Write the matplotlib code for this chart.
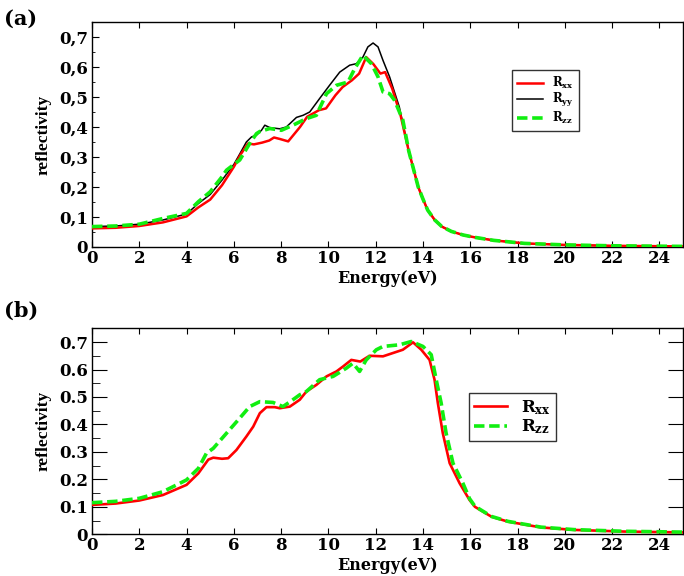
import matplotlib
matplotlib.use("Agg")
import matplotlib.pyplot as plt
from matplotlib.ticker import MultipleLocator, FixedLocator, FixedFormatter

# ---------------- data: panel (a) ----------------
Ea_xx = [0, 1, 2, 3, 4, 4.5, 5, 5.5, 6, 6.3, 6.6, 6.85, 7.2, 7.5, 7.7, 7.95, 8.3, 8.8, 9.1, 9.6,
         9.9, 10.3, 10.6, 11.0, 11.3, 11.6, 11.9, 12.2, 12.4, 12.7, 13.05, 13.4, 13.6, 13.8, 14.0,
         14.2, 14.5, 14.8, 15.2, 15.7, 16.2, 17, 18.3, 20, 22, 25]
Ra_xx = [0.062, 0.064, 0.070, 0.082, 0.102, 0.132, 0.158, 0.206, 0.267, 0.31, 0.345, 0.342, 0.348,
         0.355, 0.365, 0.36, 0.352, 0.40, 0.434, 0.456, 0.462, 0.506, 0.533, 0.556, 0.578, 0.633,
         0.61, 0.578, 0.583, 0.528, 0.44, 0.32, 0.26, 0.2, 0.16, 0.123, 0.09, 0.068, 0.052, 0.04,
         0.032, 0.022, 0.012, 0.007, 0.004, 0.002]

Ea_yy = [0, 1, 2, 3, 4, 4.5, 5, 5.5, 6, 6.25, 6.53, 6.75, 6.96, 7.17, 7.31, 7.52, 7.94, 8.22, 8.65,
         8.93, 9.21, 9.63, 10.05, 10.48, 10.9, 11.18, 11.46, 11.67, 11.89, 12.1, 12.31, 12.59, 13.0,
         13.4, 13.6, 13.8, 14.0, 14.2, 14.5, 14.8, 15.2, 15.7, 16.2, 17, 18.3, 20, 22, 25]
Ra_yy = [0.068, 0.070, 0.076, 0.090, 0.110, 0.145, 0.175, 0.223, 0.275, 0.31, 0.35, 0.367, 0.373,
         0.389, 0.406, 0.398, 0.394, 0.400, 0.432, 0.439, 0.450, 0.495, 0.539, 0.583, 0.606, 0.611,
         0.633, 0.667, 0.680, 0.667, 0.622, 0.567, 0.467, 0.32, 0.26, 0.2, 0.16, 0.123, 0.09, 0.068,
         0.052, 0.04, 0.032, 0.022, 0.012, 0.007, 0.004, 0.002]

Ea_zz = [0, 1, 2, 3, 4, 4.5, 5, 5.5, 5.69, 6.0, 6.25, 6.67, 6.96, 7.1, 7.52, 8.01, 8.5, 9.07, 9.49,
         9.92, 10.34, 10.83, 11.11, 11.46, 11.82, 12.1, 12.31, 12.59, 12.8, 13.15, 13.4, 13.6, 13.8,
         14.0, 14.2, 14.5, 14.8, 15.2, 15.7, 16.2, 17, 18.3, 20, 22, 25]
Ra_zz = [0.068, 0.070, 0.076, 0.095, 0.112, 0.151, 0.184, 0.234, 0.256, 0.275, 0.29, 0.345, 0.378,
         0.385, 0.395, 0.389, 0.406, 0.428, 0.439, 0.511, 0.539, 0.550, 0.594, 0.639, 0.611, 0.567,
         0.517, 0.511, 0.489, 0.423, 0.32, 0.26, 0.2, 0.16, 0.123, 0.09, 0.068, 0.052, 0.04, 0.032,
         0.022, 0.012, 0.007, 0.004, 0.002]

# ---------------- data: panel (b) ----------------
Eb_xx = [0, 1, 2, 3, 4, 4.5, 4.92, 5.13, 5.5, 5.76, 6.11, 6.53, 6.82, 7.1, 7.38, 7.73, 7.94, 8.37,
         8.79, 9.07, 9.49, 9.92, 10.34, 10.62, 10.97, 11.35, 11.74, 12.31, 12.73, 13.15, 13.58,
         13.93, 14.28, 14.49, 14.63, 14.84, 15.13, 15.55, 15.97, 16.2, 16.9, 17.6, 19.0, 20.4,
         22.5, 25]
Rb_xx = [0.107, 0.112, 0.123, 0.143, 0.18, 0.222, 0.272, 0.279, 0.275, 0.277, 0.307, 0.356, 0.392,
         0.441, 0.463, 0.463, 0.459, 0.465, 0.49, 0.52, 0.544, 0.575, 0.593, 0.611, 0.635, 0.629,
         0.65, 0.648, 0.66, 0.672, 0.699, 0.672, 0.635, 0.563, 0.478, 0.368, 0.259, 0.186, 0.125,
         0.10, 0.064, 0.046, 0.025, 0.016, 0.01, 0.007]

Eb_zz = [0, 1, 2, 3, 4, 4.5, 4.84, 5.13, 5.69, 6.25, 6.67, 7.1, 7.66, 8.08, 8.5, 8.79, 9.07, 9.63,
         10.2, 10.76, 11.04, 11.32, 11.6, 12.03, 12.31, 13.01, 13.51, 14.0, 14.35, 14.56, 14.77,
         14.98, 15.27, 15.69, 15.97, 16.2, 16.9, 17.6, 19.0, 20.4, 22.5, 25]
Rb_zz = [0.115, 0.12, 0.131, 0.155, 0.198, 0.24, 0.295, 0.313, 0.368, 0.423, 0.465, 0.483, 0.48,
         0.465, 0.49, 0.508, 0.52, 0.563, 0.575, 0.605, 0.623, 0.593, 0.635, 0.672, 0.684, 0.69,
         0.702, 0.684, 0.654, 0.563, 0.478, 0.368, 0.259, 0.186, 0.13, 0.102, 0.065, 0.047, 0.026,
         0.017, 0.011, 0.008]

xticks = list(range(0, 25, 2))
yticks = [0, 0.1, 0.2, 0.3, 0.4, 0.5, 0.6, 0.7]
ylabels_a = ["0", "0,1", "0,2", "0,3", "0,4", "0,5", "0,6", "0,7"]
ylabels_b = ["0", "0.1", "0.2", "0.3", "0.4", "0.5", "0.6", "0.7"]

RED = "#ff0000"
GREEN = "#11ee11"
TICKFONT = dict(family="DejaVu Serif", weight="bold", size=12)

plt.rcParams["mathtext.fontset"] = "dejavuserif"

fig = plt.figure(figsize=(6.84, 5.76), dpi=100)
axa = fig.add_axes([0.1345, 0.5712, 0.864, 0.3906])
axb = fig.add_axes([0.1345, 0.0724, 0.864, 0.3576])

axa.plot(Ea_xx, Ra_xx, color=RED, lw=1.8, label=r"$\mathbf{R_{xx}}$", zorder=3)
axa.plot(Ea_yy, Ra_yy, color="black", lw=1.1, label=r"$\mathbf{R_{yy}}$", zorder=2)
axa.plot(Ea_zz, Ra_zz, color=GREEN, lw=2.6, dashes=(2.9, 1.3), label=r"$\mathbf{R_{zz}}$", zorder=4)

axb.plot(Eb_xx, Rb_xx, color=RED, lw=1.9, label=r"$\mathbf{R_{xx}}$", zorder=3)
axb.plot(Eb_zz, Rb_zz, color=GREEN, lw=2.6, dashes=(2.9, 1.3), label=r"$\mathbf{R_{zz}}$", zorder=4)

for ax, ylabs in ((axa, ylabels_a), (axb, ylabels_b)):
    ax.set_xlim(0, 25)
    ax.set_ylim(0, 0.75)
    ax.xaxis.set_major_locator(FixedLocator(xticks))
    ax.set_xticklabels([str(t) for t in xticks], **TICKFONT)
    ax.yaxis.set_major_locator(FixedLocator(yticks))
    ax.yaxis.set_major_formatter(FixedFormatter(ylabs))
    for lab in ax.get_yticklabels():
        lab.set_fontfamily("DejaVu Serif")
        lab.set_fontweight("bold")
        lab.set_fontsize(12)
    ax.yaxis.set_minor_locator(MultipleLocator(0.05))
    ax.set_xlabel("Energy(eV)", family="DejaVu Serif", weight="bold", size=11.5, labelpad=2)
    ax.set_ylabel("reflectivity", family="Liberation Serif", weight="bold", size=12.5, labelpad=5)
    for s in ax.spines.values():
        s.set_linewidth(1.0)
    ax.tick_params(axis="x", which="major", direction="in", top=True, bottom=True, length=4,
                   width=0.8, pad=2)

axa.tick_params(axis="y", which="major", direction="in", left=True, right=False, length=5,
                width=0.8, pad=3)
axa.tick_params(axis="y", which="minor", direction="in", left=True, right=False, length=2,
                width=0.6)
axb.tick_params(axis="y", which="major", direction="in", left=True, right=True, length=11,
                width=0.8, pad=3)
axb.tick_params(axis="y", which="minor", direction="in", left=True, right=False, length=6,
                width=0.6)

la = axa.legend(loc="upper left", bbox_to_anchor=(0.711, 0.787), borderaxespad=0,
                fancybox=False, edgecolor="#333333", framealpha=1, handlelength=2.2,
                prop=dict(family="DejaVu Serif", weight="bold", size=8.5), labelspacing=0.05,
                borderpad=0.4, handletextpad=0.8)
la.get_frame().set_linewidth(1.0)
lb = axb.legend(loc="upper left", bbox_to_anchor=(0.638, 0.686), borderaxespad=0,
                fancybox=False, edgecolor="#333333", framealpha=1, handlelength=2.0,
                prop=dict(family="DejaVu Serif", weight="bold", size=12), labelspacing=0.05,
                borderpad=0.3, handletextpad=0.8)
lb.get_frame().set_linewidth(1.0)

fig.text(0.006, 0.985, "(a)", family="DejaVu Serif", weight="bold", size=15, va="top", ha="left")
fig.text(0.006, 0.478, "(b)", family="DejaVu Serif", weight="bold", size=15, va="top", ha="left")

fig.savefig("out.png", dpi=100)
